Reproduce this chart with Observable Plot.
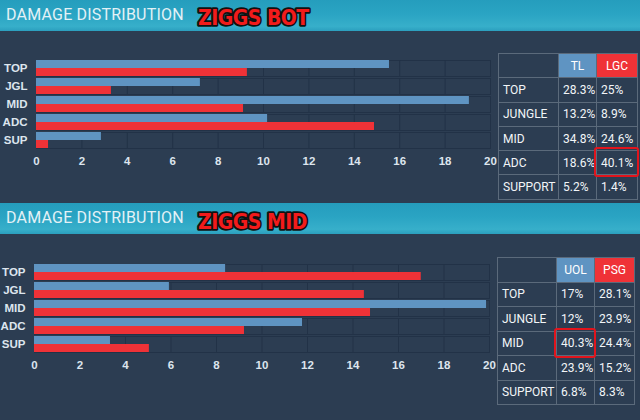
<!DOCTYPE html>
<html><head><meta charset="utf-8">
<script src="https://cdn.jsdelivr.net/npm/d3@7"></script>
<script src="https://cdn.jsdelivr.net/npm/@observablehq/plot@0.6"></script>
<style>
html,body{margin:0;padding:0}
body{width:640px;height:420px;background:#2c3d52;overflow:hidden;position:relative;font-family:Roboto,"Liberation Sans",sans-serif}
.hdr{position:absolute;left:0;width:640px;height:31px;background:linear-gradient(#259dbd,#2aa4c3 45%,#37afca 85%,#2b9fbe)}
.hdr .t{position:absolute;left:6px;top:6px;color:#e3f1f6;font-size:16px;line-height:18px;letter-spacing:0.2px}
.hdr svg{position:absolute;left:194px;top:3px}
.chart{position:absolute;left:0}
table.tb{position:absolute;border-collapse:collapse;color:#f2f5f8;font-size:12px}
table.tb td{border:1px solid #5b6a7b;padding:0 0 0 4px;position:relative;white-space:nowrap}
table.tb td.h{text-align:center;padding:0;color:#fff}
.hl{position:absolute;left:-3px;top:-4px;right:-2px;bottom:-3px;border:2px solid #e2141c;border-radius:3px}
</style></head>
<body>
<div class="hdr" style="top:0"><div class="t">DAMAGE DISTRIBUTION</div>
<svg width="120" height="28"><text x="4" y="22" font-family="Liberation Sans Narrow, DejaVu Sans Condensed, sans-serif" font-weight="bold" font-size="21" fill="#f21b1b" stroke="#111" stroke-width="3.5" paint-order="stroke" stroke-linejoin="round" letter-spacing="-0.5">ZIGGS BOT</text></svg></div>
<div class="hdr" style="top:203px"><div class="t">DAMAGE DISTRIBUTION</div>
<svg width="120" height="28"><text x="4" y="23" font-family="Liberation Sans Narrow, DejaVu Sans Condensed, sans-serif" font-weight="bold" font-size="21" fill="#f21b1b" stroke="#111" stroke-width="3.5" paint-order="stroke" stroke-linejoin="round" letter-spacing="-0.5">ZIGGS MID</text></svg></div>
<div id="c1" class="chart" style="top:30px"></div>
<div id="c2" class="chart" style="top:234px"></div>
<script>
// ---- data ----
const positions = ["TOP", "JGL", "MID", "ADC", "SUP"];
const rowLabels = ["TOP", "JUNGLE", "MID", "ADC", "SUPPORT"];
const xTicks = [0, 2, 4, 6, 8, 10, 12, 14, 16, 18, 20];

const botTeams = ["TL", "LGC"];
const botTL = [15.55, 7.22, 19.07, 10.18, 2.86];
const botLGC = [9.29, 3.3, 9.12, 14.89, 0.53];
const botTLPct = ["28.3%", "13.2%", "34.8%", "18.6%", "5.2%"];
const botLGCPct = ["25%", "8.9%", "24.6%", "40.1%", "1.4%"];
const botHighlight = {row: "ADC", team: "LGC"};

const midTeams = ["UOL", "PSG"];
const midUOL = [8.4, 5.93, 19.87, 11.78, 3.34];
const midPSG = [17.0, 14.5, 14.77, 9.23, 5.05];
const midUOLPct = ["17%", "12%", "40.3%", "23.9%", "6.8%"];
const midPSGPct = ["28.1%", "23.9%", "24.4%", "15.2%", "8.3%"];
const midHighlight = {row: "MID", team: "UOL"};

const BLUE = "#5f94c2", RED = "#ef3237", GRID = "#223247";

function chart(teams, a, b, width, ml) {
  const data = positions.flatMap((p, i) => [
    {pos: p, team: teams[0], v: a[i]},
    {pos: p, team: teams[1], v: b[i]}
  ]);
  return Plot.plot({
    width, height: 150, marginLeft: ml, marginRight: 8, marginTop: 27, marginBottom: 29,
    style: {background: "transparent", color: "#dde5ee", fontFamily: "Liberation Sans, Arial, sans-serif", fontSize: "11.5px", fontWeight: "bold"},
    x: {domain: [0, 20], ticks: xTicks, tickSize: 0, tickPadding: 8, label: null},
    fy: {domain: positions, paddingInner: 0.105, paddingOuter: 0.03, label: null, tickSize: 0, tickPadding: 9},
    y: {domain: teams, axis: null, paddingInner: 0.05, paddingOuter: 0},
    color: {domain: teams, range: [BLUE, RED]},
    marks: [
      Plot.frame({stroke: GRID}),
      Plot.gridX(xTicks, {stroke: GRID, strokeOpacity: 1}),
      Plot.barX(data, {x1: 0, x2: "v", y: "team", fy: "pos", fill: "team"})
    ]
  });
}
document.getElementById("c1").append(chart(botTeams, botTL, botLGC, 498, 36));
document.getElementById("c2").append(chart(midTeams, midUOL, midPSG, 497, 34));

function table(teams, p1, p2, hl, left, top, widths, rowH) {
  const t = document.createElement("table");
  t.className = "tb";
  t.style.left = left + "px"; t.style.top = top + "px";
  const hr = t.insertRow();
  hr.style.height = rowH + "px";
  const c0 = hr.insertCell(); c0.style.width = (widths[0] - 5) + "px";
  [BLUE, RED].forEach((col, j) => {
    const c = hr.insertCell(); c.className = "h"; c.textContent = teams[j];
    c.style.background = col; c.style.width = (widths[j + 1] - 1) + "px";
  });
  rowLabels.forEach((lab, i) => {
    const r = t.insertRow(); r.style.height = rowH + "px";
    r.insertCell().textContent = lab;
    [p1[i], p2[i]].forEach((v, j) => {
      const c = r.insertCell(); c.textContent = v;
      if (positions[i] === hl.row && teams[j] === hl.team) {
        const d = document.createElement("div"); d.className = "hl"; c.appendChild(d);
      }
    });
  });
  document.body.appendChild(t);
}
table(botTeams, botTLPct, botLGCPct, botHighlight, 498, 53, [60, 38, 41], 24.3);
table(midTeams, midUOLPct, midPSGPct, midHighlight, 497, 257, [59, 38, 40], 24.5);
</script>
</body></html>
